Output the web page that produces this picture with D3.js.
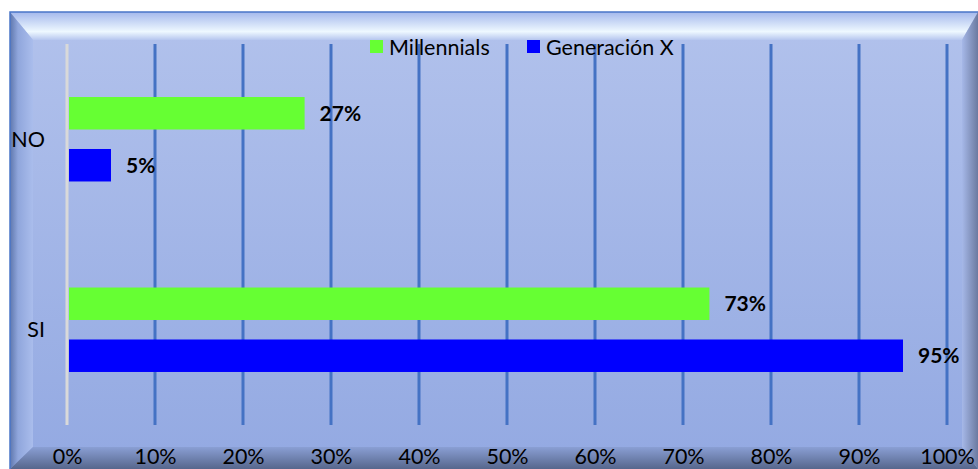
<!DOCTYPE html>
<html>
<head>
<meta charset="utf-8">
<script src="https://cdn.jsdelivr.net/npm/d3@7"></script>
<style>
  body { margin: 0; background: #fff; }
  svg text { font-family: Lato, "Open Sans", sans-serif; }
</style>
</head>
<body>
<div id="chart"><svg></svg></div>
<script>
const categories = ["NO", "SI"];
const seriesNames = ["Millennials", "Generación X"];
const millennials = [27, 73];
const genX = [5, 95];
const tickValues = [0, 10, 20, 30, 40, 50, 60, 70, 80, 90, 100];
const colors = ["#66ff33", "#0000ff"];

const W = 978, H = 469;
const svg = d3.select("#chart").select("svg").attr("width", W).attr("height", H);
const defs = svg.append("defs");

function grad(id, x2, y2, stops) {
	let g = defs.append("linearGradient").attr("id", id)
		.attr("x1", 0).attr("y1", 0).attr("x2", x2).attr("y2", y2);
	stops.forEach(s => g.append("stop").attr("offset", s[0]).attr("stop-color", s[1]));
}
grad("panel", 0, 1, [[0, "#b2c2ec"], [1, "#93a9e2"]]);
grad("bevTop", 0, 1, [[0, "#a4b8ec"], [0.7, "#eef8ff"], [1, "#b6c6ef"]]);
grad("bevLeft", 1, 0, [[0, "#5f77ad"], [0.35, "#90a6dc"], [1, "#aabdec"]]);
grad("bevBottom", 0, 1, [[0, "#8a9fd4"], [1, "#56668c"]]);
grad("bevRight", 1, 0, [[0, "#a6b8e8"], [1, "#6b7aa0"]]);

// frame with bevels
const fx0 = 10, fy0 = 12, fx1 = 978, fy1 = 469;
const bt = 28, bl = 23, bb = 22, br = 16;
svg.append("rect").attr("x", fx0).attr("y", fy0).attr("width", fx1 - fx0).attr("height", fy1 - fy0)
	.attr("fill", "url(#panel)");
svg.append("polygon").attr("fill", "url(#bevTop)")
	.attr("points", [[fx0, fy0], [fx1, fy0], [fx1 - br, fy0 + bt], [fx0 + bl, fy0 + bt]].join(" "));
svg.append("polygon").attr("fill", "url(#bevLeft)")
	.attr("points", [[fx0, fy0], [fx0 + bl, fy0 + bt], [fx0 + bl, fy1 - bb], [fx0, fy1]].join(" "));
svg.append("polygon").attr("fill", "url(#bevBottom)")
	.attr("points", [[fx0, fy1], [fx0 + bl, fy1 - bb], [fx1 - br, fy1 - bb], [fx1, fy1]].join(" "));
svg.append("polygon").attr("fill", "url(#bevRight)")
	.attr("points", [[fx1, fy0], [fx1 - br, fy0 + bt], [fx1 - br, fy1 - bb], [fx1, fy1]].join(" "));
svg.append("path").attr("d", `M${fx0},${fy1}V${fy0}H${fx1}`)
	.attr("fill", "none").attr("stroke", "#4a76c8").attr("stroke-width", 1.5);

// scales
const x = d3.scaleLinear().domain([0, 100]).range([67, 947]);
const y = d3.scaleBand().domain(categories).range([44, 425]);
const y1 = d3.scaleBand().domain(seriesNames).range([0, y.bandwidth()])
	.paddingInner(0.375).paddingOuter(1.02);

// gridlines
svg.append("g").selectAll("line")
	.data(tickValues)
	.join("line")
	.attr("x1", d => x(d)).attr("x2", d => x(d))
	.attr("y1", 44).attr("y2", 425)
	.attr("stroke", d => d === 0 ? "#d9d9d9" : "#4472c4")
	.attr("stroke-width", 3);

// x axis labels
const xAxis = svg.append("g")
	.attr("transform", "translate(0,449)")
	.call(d3.axisBottom(x).tickValues(tickValues).tickSize(0).tickPadding(0).tickFormat(d => d + "%"));
xAxis.select(".domain").remove();
xAxis.selectAll("text").attr("font-size", 21.5).attr("fill", "#000").attr("font-family", "Lato");

// category labels
svg.append("g").selectAll("text")
	.data(categories)
	.join("text")
	.attr("x", 45)
	.attr("y", d => y(d) + y.bandwidth() / 2)
	.attr("dy", "0.35em")
	.attr("text-anchor", "end")
	.attr("font-size", 21.5)
	.text(d => d);

// bars
const rows = categories.map((c, i) => ({cat: c, vals: [millennials[i], genX[i]]}));
const groups = svg.append("g").selectAll("g")
	.data(rows)
	.join("g")
	.attr("transform", d => `translate(0,${y(d.cat)})`);

const bars = groups.selectAll("g.bar")
	.data(d => d.vals.map((v, i) => ({name: seriesNames[i], value: v, i: i})))
	.join("g").attr("class", "bar");

bars.append("rect")
	.attr("x", x(0) + 2)
	.attr("y", d => y1(d.name))
	.attr("width", d => x(d.value) - x(0) - 2)
	.attr("height", y1.bandwidth())
	.attr("fill", d => colors[d.i]);

bars.append("text")
	.attr("x", d => x(d.value) + 15)
	.attr("y", d => y1(d.name) + y1.bandwidth() / 2)
	.attr("dy", "0.35em")
	.attr("font-size", 21)
	.attr("font-weight", "bold")
	.text(d => d.value + "%");

// legend
const legend = svg.append("g").selectAll("g")
	.data(seriesNames)
	.join("g")
	.attr("transform", (d, i) => `translate(${[370, 527][i]},40)`);
legend.append("rect").attr("width", 13).attr("height", 13).attr("fill", (d, i) => colors[i]);
legend.append("text").attr("x", 19).attr("y", 7).attr("dy", "0.35em")
	.attr("font-size", 21.5).text(d => d);
</script>
</body>
</html>
